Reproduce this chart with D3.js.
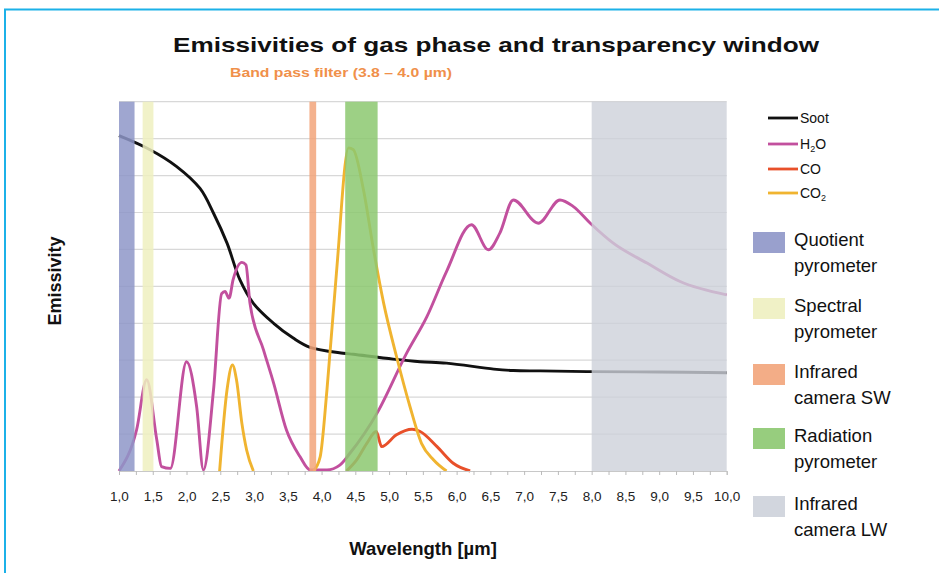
<!DOCTYPE html>
<html><head><meta charset="utf-8">
<script src="https://cdn.jsdelivr.net/npm/d3@7"></script>
<style>body{margin:0;background:#fff}svg{display:block;font-family:"Liberation Sans",Arial,sans-serif}</style>
</head><body><svg id="c" width="939" height="573"></svg>
<script>
// ---- data ----
const xTickLabels = ["1,0","1,5","2,0","2,5","3,0","3,5","4,0","4,5","5,0","5,5","6,0","6,5","7,0","7,5","8,0","8,5","9,0","9,5","10,0"];
const sootX = [1.0,1.46,1.85,2.2,2.4,2.6,2.79,2.99,3.29,3.58,3.83,4.32,4.47,5.06,5.46,5.85,6.55,6.84,7.24,8.0,9.0,10.0];
const sootY = [0.908,0.870,0.825,0.765,0.698,0.617,0.518,0.454,0.400,0.360,0.335,0.319,0.316,0.303,0.296,0.292,0.276,0.272,0.271,0.269,0.268,0.266];
const h2oX = [1.0,1.26,1.41,1.56,1.63,1.76,2.0,2.15,2.25,2.40,2.52,2.57,2.63,2.69,2.82,2.88,2.94,3.14,3.29,3.48,3.68,3.83,4.08,4.27,4.42,4.82,5.26,5.56,5.85,6.22,6.47,6.64,6.84,7.21,7.53,7.73,7.98,8.32,8.82,9.31,10.0];
const h2oY = [0.0,0.111,0.247,0.084,0.012,0.007,0.296,0.174,0.003,0.22,0.48,0.486,0.468,0.518,0.565,0.558,0.454,0.328,0.238,0.111,0.039,0.003,0.003,0.016,0.048,0.156,0.319,0.418,0.540,0.667,0.599,0.644,0.734,0.671,0.734,0.716,0.671,0.617,0.563,0.513,0.477];
const coX = [4.37,4.52,4.67,4.81,4.89,5.11,5.34,5.46,5.71,5.95,6.20];
const coY = [0.0,0.03,0.075,0.107,0.066,0.098,0.113,0.107,0.066,0.021,0.0];
const co2aX = [2.49,2.60,2.68,2.74,2.82,2.89,2.99];
const co2aY = [0.0,0.22,0.287,0.247,0.129,0.057,0.0];
const co2bX = [3.88,3.98,4.08,4.22,4.40,4.47,4.62,4.77,4.92,5.11,5.31,5.48,5.66,5.85];
const co2bY = [0.0,0.039,0.22,0.536,0.875,0.87,0.762,0.599,0.454,0.310,0.174,0.075,0.030,0.0];
const bandNames = ["Quotient pyrometer","Spectral pyrometer","Infrared camera SW","Radiation pyrometer","Infrared camera LW"];
const bandFrom = [1.0,1.35,3.82,4.35,8.0];
const bandTo = [1.23,1.51,3.92,4.83,10.0];
const bandColors = ["#8e96c8","#eef0c0","#f2a47a","#8cc870","#cdd1da"];
const lineNames = ["Soot","H\u2082O","CO","CO\u2082"];
const lineColors = ["#111111","#c2509e","#e8502a","#f0b430"];

// ---- chart ----
const svg = d3.select("#c");
const x = d3.scaleLinear().domain([1,10]).range([119,726.7]);
const y = d3.scaleLinear().domain([0,1]).range([471,101.7]);

// frame
svg.append("path").attr("d","M5,573V9.5H939").attr("fill","none").attr("stroke","#1cb1e8").attr("stroke-width",2);

// gridlines
svg.append("g").selectAll("line").data(d3.range(1,11).map(i=>i/10)).join("line")
  .attr("x1",x(1)).attr("x2",x(10)).attr("y1",d=>y(d)).attr("y2",d=>y(d))
  .attr("stroke","#d8d8d8").attr("stroke-width",1.2);

// lines
const pts = (xs,ys)=>xs.map((v,i)=>[v,ys[i]]);
const lineGen = d3.line().x(d=>x(d[0])).y(d=>y(d[1])).curve(d3.curveMonotoneX);
const smoothGen = d3.line().x(d=>x(d[0])).y(d=>y(d[1])).curve(d3.curveCatmullRom.alpha(0.5));
const series = [
  {d:pts(sootX,sootY),c:lineColors[0],g:smoothGen},
  {d:pts(h2oX,h2oY),c:lineColors[1],g:lineGen},
  {d:pts(coX,coY),c:lineColors[2],g:lineGen},
  {d:pts(co2aX,co2aY),c:lineColors[3],g:lineGen},
  {d:pts(co2bX,co2bY),c:lineColors[3],g:lineGen}
];
svg.append("g").selectAll("path").data(series).join("path")
  .attr("d",s=>s.g(s.d)).attr("fill","none").attr("stroke",s=>s.c).attr("stroke-width",2.9)
  .attr("stroke-linejoin","round");

// bands over lines
svg.append("g").selectAll("rect").data(bandFrom).join("rect")
  .attr("x",(d)=>x(d)).attr("width",(d,i)=>x(bandTo[i])-x(d))
  .attr("y",y(1)).attr("height",y(0)-y(1))
  .attr("fill",(d,i)=>bandColors[i]).attr("opacity",(d,i)=>i===4?0.8:0.85);

// x axis
const ax = d3.axisBottom(x).tickValues(d3.range(1,10.001,0.25)).tickSize(4).tickFormat("");
const gx = svg.append("g").attr("transform",`translate(0,${y(0)})`).call(ax);
gx.select(".domain").attr("stroke","#c8c8c8");
gx.selectAll(".tick line").attr("stroke","#bbbbbb");
const labAx = d3.axisBottom(x).tickValues(d3.range(0,19).map(i=>1+i*0.5)).tickSize(0)
  .tickFormat((d,i)=>xTickLabels[i]);
const gl = svg.append("g").attr("transform",`translate(0,${y(0)+17})`).call(labAx);
gl.select(".domain").remove();
gl.selectAll("text").attr("font-size",13.5).attr("fill","#222").attr("font-family","Liberation Sans, Arial, sans-serif");

// titles
svg.append("text").attr("x",496).attr("y",52).attr("text-anchor","middle")
  .attr("font-size",21).attr("font-weight","bold").attr("fill","#111")
  .attr("textLength",646).attr("lengthAdjust","spacingAndGlyphs")
  .text("Emissivities of gas phase and transparency window");
svg.append("text").attr("x",341).attr("y",77).attr("text-anchor","middle")
  .attr("font-size",13).attr("font-weight","bold").attr("fill","#f0904a")
  .attr("textLength",222).attr("lengthAdjust","spacingAndGlyphs")
  .text("Band pass filter (3.8 \u2013 4.0 \u00b5m)");
svg.append("text").attr("transform","translate(61,281) rotate(-90)").attr("text-anchor","middle")
  .attr("font-size",18).attr("font-weight","bold").attr("fill","#111").text("Emissivity");
svg.append("text").attr("x",423).attr("y",555).attr("text-anchor","middle")
  .attr("font-size",18.5).attr("font-weight","bold").attr("fill","#111").text("Wavelength [\u00b5m]");

// line legend
const ll = svg.append("g");
const lly = [118,144,169,193];
lineNames.forEach((n,i)=>{
  ll.append("line").attr("x1",768).attr("x2",798).attr("y1",lly[i]).attr("y2",lly[i])
    .attr("stroke",lineColors[i]).attr("stroke-width",2.8);
});
ll.append("text").attr("x",800).attr("y",lly[0]+5).attr("font-size",14).attr("fill","#111").text("Soot");
const t1 = ll.append("text").attr("x",800).attr("y",lly[1]+5).attr("font-size",14).attr("fill","#111");
t1.append("tspan").text("H"); t1.append("tspan").attr("font-size",9).attr("dy",3).text("2"); t1.append("tspan").attr("dy",-3).text("O");
ll.append("text").attr("x",800).attr("y",lly[2]+5).attr("font-size",14).attr("fill","#111").text("CO");
const t3 = ll.append("text").attr("x",800).attr("y",lly[3]+5).attr("font-size",14).attr("fill","#111");
t3.append("tspan").text("CO"); t3.append("tspan").attr("font-size",9).attr("dy",3).text("2");

// band legend
const bl = svg.append("g");
const by = [246,312,378,442,510];
bandNames.forEach((n,i)=>{
  const words = n.split(" ");
  const l1 = words[0];
  const l2 = words.slice(1).join(" ");
  bl.append("rect").attr("x",753).attr("y",by[i]-14).attr("width",32).attr("height",21)
    .attr("fill",bandColors[i]).attr("opacity",0.9);
  bl.append("text").attr("x",794).attr("y",by[i]).attr("font-size",18.5).attr("fill","#111").text(l1);
  bl.append("text").attr("x",794).attr("y",by[i]+26).attr("font-size",18.5).attr("fill","#111").text(l2);
});
</script></body></html>
